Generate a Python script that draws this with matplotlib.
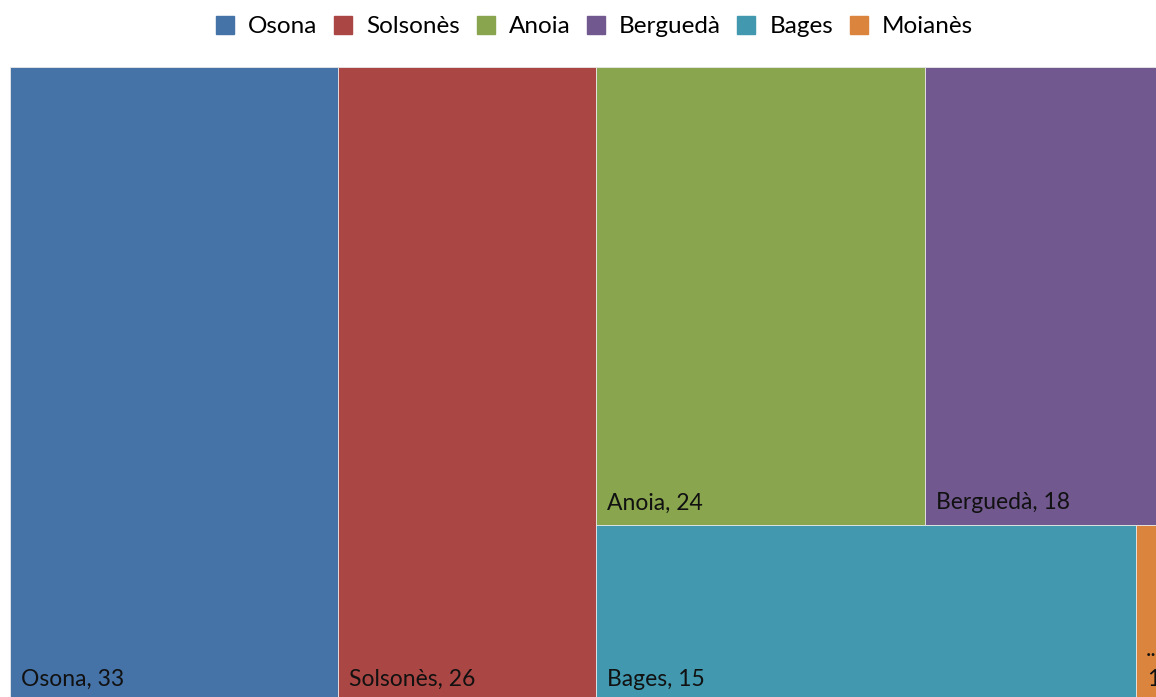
import matplotlib
matplotlib.use("Agg")
import matplotlib.pyplot as plt
from matplotlib.patches import Rectangle
from matplotlib.lines import Line2D

categories = ["Osona", "Solsonès", "Anoia", "Berguedà", "Bages", "Moianès"]
values = [33, 26, 24, 18, 15, 1]
colors = ["#4572A7", "#AA4643", "#89A54E", "#71588F", "#4198AF", "#DB843D"]
# layout structure: two full-height columns, then a block of two rows
columns = [[0], [1]]
block_rows = [[2, 3], [4, 5]]

plt.rcParams['font.family'] = ['Lato', 'DejaVu Sans']

W, H = 1156, 697
fig = plt.figure(figsize=(W / 100, H / 100), dpi=100)
left_px, right_px, top_px, bottom_px = 10, 1172, 67, 700
ax = fig.add_axes([left_px / W, 1 - bottom_px / H, (right_px - left_px) / W, (bottom_px - top_px) / H])
total = sum(values)
ax.set_xlim(0, total)
ax.set_ylim(0, 1)
ax.axis('off')

rects = {}
x = 0.0
for col in columns:
    s = sum(values[i] for i in col)
    y = 1.0
    for i in col:
        h = values[i] / s
        rects[i] = (x, y - h, s, h)
        y -= h
    x += s
block_w = total - x
block_sum = sum(values[i] for r in block_rows for i in r)
y = 1.0
for row in block_rows:
    rs = sum(values[i] for i in row)
    h = rs / block_sum
    xx = x
    for i in row:
        w = values[i] / rs * block_w
        rects[i] = (xx, y - h, w, h)
        xx += w
    y -= h

for i, (rx, ry, rw, rh) in rects.items():
    ax.add_patch(Rectangle((rx, ry), rw, rh, facecolor=colors[i], edgecolor='#e8e8e8', linewidth=0.6, clip_on=False))
    if values[i] >= 5:
        label = f"{categories[i]}, {values[i]}"
        ax.annotate(label, xy=(rx, ry), xytext=(11, 12 if ry > 0 else 10), textcoords='offset pixels',
                    ha='left', va='bottom', fontsize=16.5, color='#111111', annotation_clip=False)
    else:
        ax.annotate("..", xy=(rx, ry), xytext=(10, 40), textcoords='offset pixels',
                    ha='left', va='bottom', fontsize=16.5, color='#111111', annotation_clip=False)
        ax.annotate(str(values[i]), xy=(rx, ry), xytext=(11, 10), textcoords='offset pixels',
                    ha='left', va='bottom', fontsize=16.5, color='#111111', annotation_clip=False)

handles = [Line2D([], [], marker='s', linestyle='none', markersize=13.5, markerfacecolor=c, markeredgecolor=c)
           for c in colors]
fig.legend(handles, categories, loc='upper center', bbox_to_anchor=(0.513, 1.006), ncol=6, frameon=False,
           fontsize=17.5, handletextpad=0.45, columnspacing=0.55, borderaxespad=0.45, handlelength=1.0)

fig.savefig("out.png", dpi=100)
